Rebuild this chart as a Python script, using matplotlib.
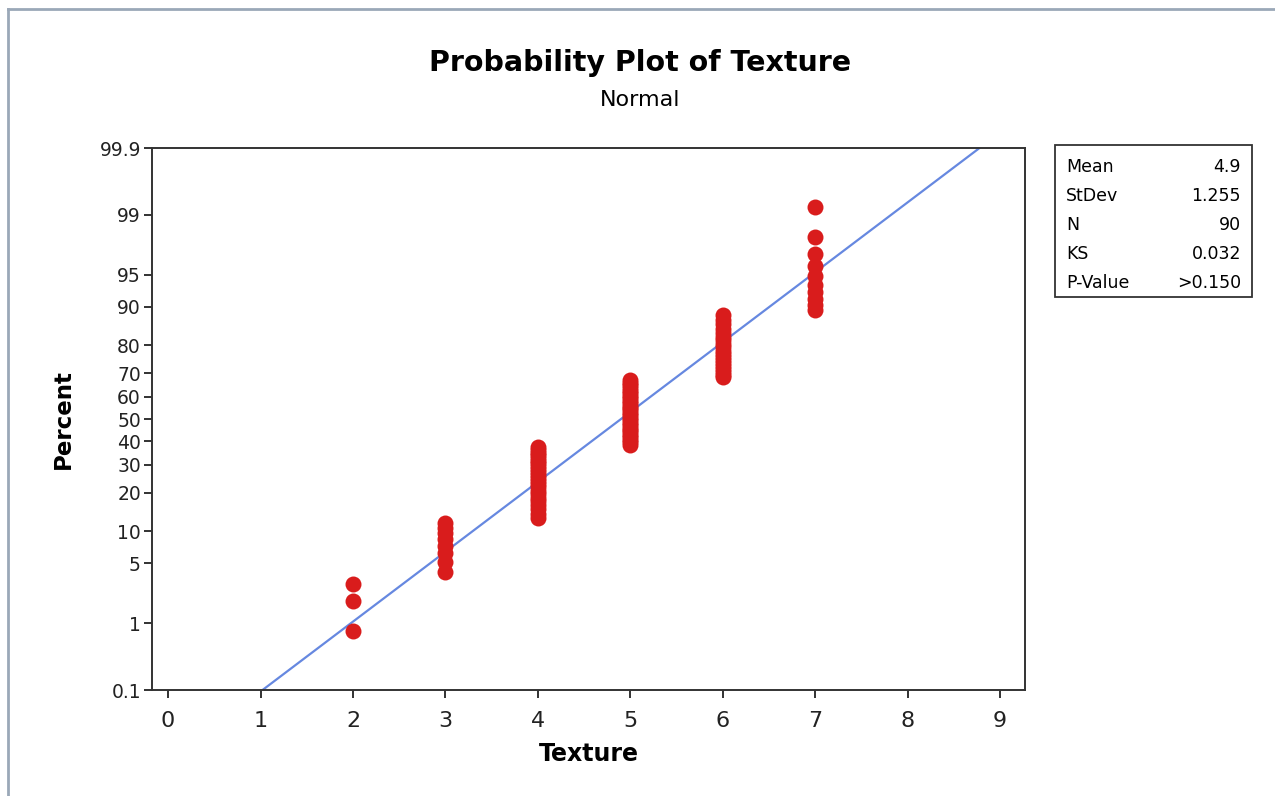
import numpy as np
import matplotlib.pyplot as plt
from matplotlib.lines import Line2D
from statistics import NormalDist

# данные: значения Texture и сколько раз каждое встречается (N = 90)
texture_levels = [2, 3, 4, 5, 6, 7]
texture_counts = [3, 8, 23, 27, 19, 10]

# параметры подогнанного нормального распределения и статистика из таблички
mean = 4.9
stdev = 1.255
stat_names = ['Mean', 'StDev', 'N', 'KS', 'P-Value']
stat_values = ['4.9', '1.255', '90', '0.032', '>0.150']

y_ticks = [0.1, 1, 5, 10, 20, 30, 40, 50, 60, 70, 80, 90, 95, 99, 99.9]
y_ticklabels = ['0.1', '1', '5', '10', '20', '30', '40', '50', '60', '70', '80', '90', '95', '99', '99.9']

# выборка и позиции по медианным рангам (Benard), как в Minitab
texture = np.repeat(texture_levels, texture_counts)
n = len(texture)
ranks = np.arange(1, n + 1)
percent = (ranks - 0.3) / (n + 0.4) * 100

nd = NormalDist()
_ppf = np.vectorize(lambda v: nd.inv_cdf(v / 100), otypes=[float])
_cdf = np.vectorize(lambda v: nd.cdf(v) * 100, otypes=[float])


def fwd(p):
    p = np.clip(np.asarray(p, dtype=float), 1e-6, 100 - 1e-6)
    return _ppf(p)


def inv(z):
    return _cdf(np.asarray(z, dtype=float))


fig = plt.figure(figsize=(12.75, 7.96), dpi=100)
ax = fig.add_axes([152 / 1275, 1 - 690 / 796, (1025 - 152) / 1275, (690 - 148) / 796])
ax.set_yscale('function', functions=(fwd, inv))

# линия подгонки
line_p = np.array([0.1, 99.9])
line_x = np.array([mean + stdev * nd.inv_cdf(v / 100) for v in line_p])
ax.plot(line_x, line_p, color='#6688e0', lw=1.6, zorder=2)

# точки
ax.plot(texture, percent, 'o', color='#d91c1c', ms=11.5, mec='none', zorder=3)

ax.set_xlim(-0.174, 9.27)
ax.set_ylim(0.1, 99.9)
ax.set_xticks(range(10))
ax.set_yticks(y_ticks)
ax.set_yticklabels(y_ticklabels)
ax.minorticks_off()
ax.tick_params(axis='x', labelsize=16, length=6, width=1.3, direction='out', pad=9,
               colors='#222222')
ax.tick_params(axis='y', labelsize=13.5, length=6, width=1.3, direction='out', pad=2,
               colors='#222222')
for s in ax.spines.values():
    s.set_linewidth(1.4)
    s.set_color('#333333')

ax.set_xlabel('Texture', fontsize=17, fontweight='bold', labelpad=8)
ax.set_ylabel('Percent', fontsize=16.5, fontweight='bold', labelpad=18)

fig.text(0.502, 1 - 63 / 796, 'Probability Plot of Texture', ha='center', va='center',
         fontsize=20.5, fontweight='bold')
fig.text(0.502, 1 - 100 / 796, 'Normal', ha='center', va='center', fontsize=16)

# табличка со статистикой
box = plt.Rectangle((1055 / 1275, 1 - 297 / 796), (1252 - 1055) / 1275, (297 - 145) / 796,
                    transform=fig.transFigure, fill=False, ec='#333333', lw=1.3)
fig.patches.append(box)
for i, (name, val) in enumerate(zip(stat_names, stat_values)):
    y = 1 - (167 + i * 29) / 796
    fig.text(1066 / 1275, y, name, ha='left', va='center', fontsize=12.5)
    fig.text(1241 / 1275, y, val, ha='right', va='center', fontsize=12.5)

# рамка от скана слева и сверху
fig.add_artist(Line2D([8 / 1275, 8 / 1275], [0, 1 - 9 / 796], transform=fig.transFigure,
                      color='#9aa8b8', lw=2))
fig.add_artist(Line2D([8 / 1275, 1], [1 - 9 / 796, 1 - 9 / 796], transform=fig.transFigure,
                      color='#9aa8b8', lw=2))

plt.savefig('out.png', dpi=100)
